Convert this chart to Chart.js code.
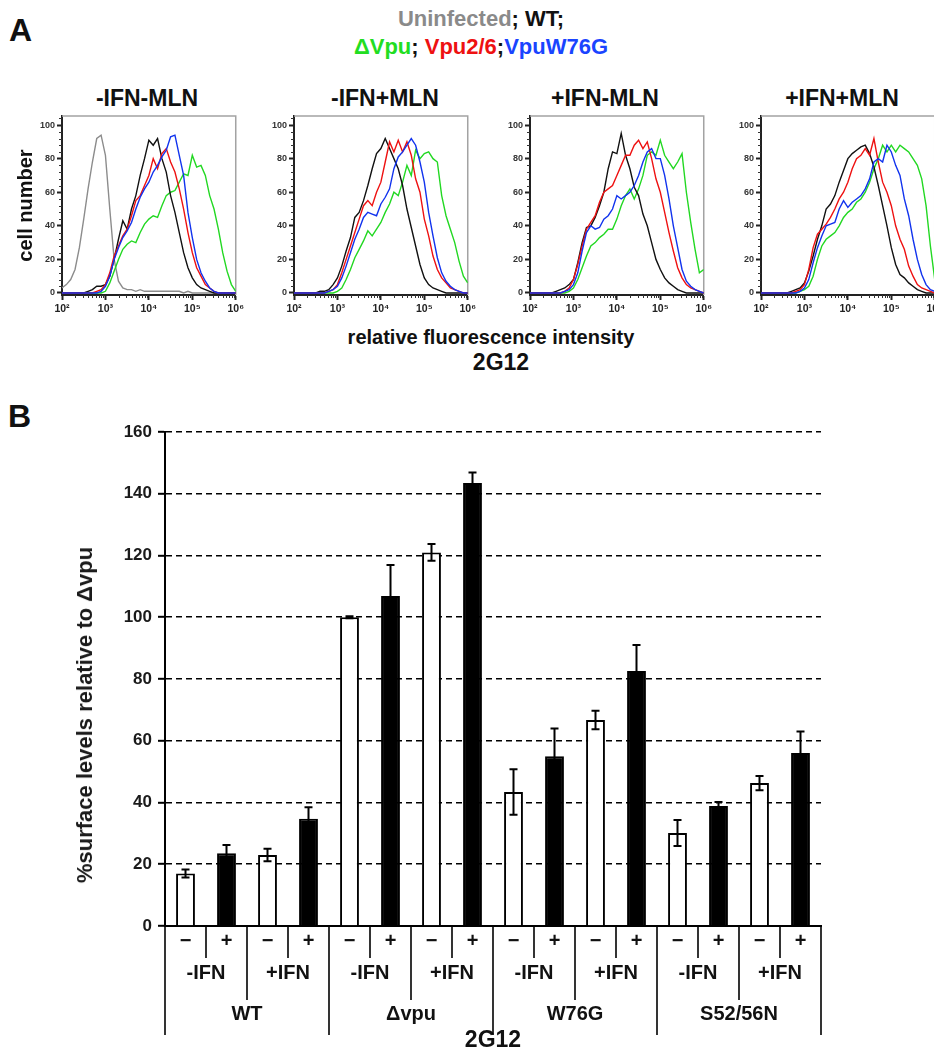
<!DOCTYPE html>
<html>
<head>
<meta charset="utf-8">
<script src="https://cdn.jsdelivr.net/npm/chart.js@4.4.0/dist/chart.umd.min.js"></script>
<style>
  html, body { margin: 0; padding: 0; background: #fff; }
  body { width: 934px; height: 1054px; position: relative; overflow: hidden; font-family: "Liberation Sans", Arial, sans-serif; }
  canvas { position: absolute; }
  .txt { position: absolute; font-weight: bold; color: #111; white-space: nowrap; }
  .letter { font-size: 32px; line-height: 36px; }
  .header { left: 0; width: 962px; text-align: center; font-size: 22px; line-height: 28px; }
  .ptitle { top: 85px; width: 200px; text-align: center; font-size: 23px; line-height: 26px; }
  .ytitle { font-size: 22px; line-height: 26px; transform: translate(-50%, -50%) rotate(-90deg); color: #1a1a1a; }
</style>
</head>
<body>

<div class="txt letter" style="left:9px; top:12px;">A</div>
<div class="txt header" style="top:5px;"><span style="color:#8a8a8a">Uninfected</span>; WT;</div>
<div class="txt header" style="top:33px;"><span style="color:#22dd22">&Delta;Vpu</span>; <span style="color:#ee1111">Vpu2/6</span>;<span style="color:#1a44ff">VpuW76G</span></div>

<div class="txt ptitle" style="left:47px;">-IFN-MLN</div>
<div class="txt ptitle" style="left:285px;">-IFN+MLN</div>
<div class="txt ptitle" style="left:505px;">+IFN-MLN</div>
<div class="txt ptitle" style="left:742px;">+IFN+MLN</div>

<canvas id="h1" width="237" height="215" style="left:10px; top:106px;"></canvas>
<canvas id="h2" width="219" height="215" style="left:260px; top:106px;"></canvas>
<canvas id="h3" width="219" height="215" style="left:496px; top:106px;"></canvas>
<canvas id="h4" width="219" height="215" style="left:727px; top:106px;"></canvas>

<div class="txt" style="left:0; width:982px; text-align:center; top:325px; font-size:20px; line-height:24px;">relative fluorescence intensity</div>
<div class="txt" style="left:0; width:1002px; text-align:center; top:348px; font-size:23px; line-height:28px;">2G12</div>

<div class="txt letter" style="left:8px; top:398px;">B</div>
<canvas id="bars" width="934" height="654" style="left:0; top:400px;"></canvas>
<div class="txt ytitle" style="left:85px; top:715px;">%surface levels relative to &Delta;vpu</div>

<script>
Chart.defaults.font.family = '"Liberation Sans", Arial, sans-serif';
Chart.defaults.animation = false;

// ---------- panel A: flow histograms ----------
// bins are log10 of fluorescence intensity
var histBins = [2.0, 2.1, 2.2, 2.3, 2.4, 2.5, 2.6, 2.7, 2.8, 2.9, 3.0, 3.1, 3.2, 3.3, 3.4, 3.5, 3.6, 3.7, 3.8, 3.9, 4.0,
                4.1, 4.2, 4.3, 4.4, 4.5, 4.6, 4.7, 4.8, 4.9, 5.0, 5.1, 5.2, 5.3, 5.4, 5.5, 5.6, 5.7, 5.8, 5.9, 6.0];
var decadeExp = [2, 3, 4, 5, 6];
var decadeLabels = ['10\u00B2', '10\u00B3', '10\u2074', '10\u2075', '10\u2076'];
var histYTicks = [0, 20, 40, 60, 80, 100];

var seriesNames = ['VpuW76G', 'Vpu2/6', 'WT', '\u0394Vpu', 'Uninfected'];
var seriesColors = ['#1133ee', '#ee1111', '#111111', '#22d822', '#8c8c8c'];

// -IFN-MLN
var p1Blue  = [0,0,0,0,0,0,0,0,0,1,4,10,20,27,33,37,42,50,57,62,66,72,76,81,85,93,94,82,70,48,33,20,12,7,3,1,0,0,0,0,0];
var p1Red   = [0,0,0,0,0,0,0,0,1,2,5,12,22,28,34,38,46,55,58,64,70,80,74,83,86,78,72,62,50,36,24,15,10,5,3,1,0,0,0,0,0];
var p1Black = [0,0,0,0,0,0,1,2,4,4,5,10,20,32,43,38,50,58,70,80,91,88,92,80,72,58,48,36,24,15,9,5,3,2,1,0,0,0,0,0,0];
var p1Green = [0,0,0,0,0,0,0,0,0,0,1,6,13,20,26,29,31,30,36,41,44,46,45,52,58,60,61,66,71,70,82,75,76,70,58,50,38,24,13,5,1];
var p1Gray  = [3,5,8,14,27,44,62,78,92,94,82,50,20,7,3,2,2,1,2,1,1,1,1,1,1,1,1,1,0,1,0,0,0,0,0,0,0,0,0,0,0];

// -IFN+MLN
var p2Blue  = [0,0,0,0,0,0,0,0,1,2,4,9,16,24,32,38,45,48,47,46,53,57,62,74,81,84,88,92,88,78,66,48,34,21,12,7,4,2,1,0,0];
var p2Red   = [0,0,0,0,0,0,0,0,1,2,5,12,20,28,36,44,52,55,52,60,66,78,90,84,91,84,90,82,68,60,44,34,22,14,9,6,3,2,1,0,0];
var p2Black = [0,0,0,0,0,0,1,1,2,5,9,16,25,33,45,48,55,64,74,83,86,92,86,80,74,64,50,39,28,17,9,5,3,2,1,0,0,0,0,0,0];
var p2Green = [0,0,0,0,0,0,0,0,0,0,1,3,8,14,21,26,31,37,34,38,42,48,53,60,58,66,76,70,85,80,83,84,80,78,58,46,38,30,19,10,6];

// +IFN-MLN
var p3Blue  = [0,0,0,0,0,0,0,0,1,2,5,12,25,36,40,38,39,44,46,50,58,56,58,60,64,70,78,84,86,80,80,70,56,40,27,14,7,4,2,1,0];
var p3Red   = [0,0,0,0,0,0,0,0,1,3,8,17,28,38,42,46,54,60,62,64,70,76,82,82,88,91,86,90,80,68,60,48,36,25,15,9,5,3,2,1,0];
var p3Black = [0,0,0,0,0,0,1,2,3,5,8,18,30,39,40,45,52,60,74,84,83,95,82,74,63,58,47,40,30,20,14,9,6,4,2,1,0,0,0,0,0];
var p3Green = [0,0,0,0,0,0,0,0,0,1,3,8,15,22,28,30,33,35,38,38,44,52,58,62,56,62,70,82,84,82,91,82,78,74,78,83,60,42,26,12,14];

// +IFN+MLN
var p4Blue  = [0,0,0,0,0,0,0,0,0,1,3,8,18,27,34,40,41,42,50,55,51,54,56,58,62,68,78,80,78,88,84,76,70,56,46,32,20,11,5,2,1];
var p4Red   = [0,0,0,0,0,0,0,0,1,2,5,14,27,35,38,41,45,50,56,60,66,74,80,82,86,82,92,78,66,60,52,40,32,26,16,10,5,3,2,1,0];
var p4Black = [0,0,0,0,0,0,0,1,2,3,6,13,22,32,40,50,53,58,66,73,80,83,85,87,88,83,75,64,52,40,27,17,11,9,6,4,2,1,0,0,0];
var p4Green = [0,0,0,0,0,0,0,0,0,1,2,4,10,20,28,32,34,36,40,45,48,50,54,56,60,66,74,80,88,84,88,84,88,86,84,80,76,68,52,28,8];

var histPanels = [
    { id: 'h1', yWidth: 52, yTitle: 'cell number', series: [p1Blue, p1Red, p1Black, p1Green, p1Gray] },
    { id: 'h2', yWidth: 34, yTitle: '', series: [p2Blue, p2Red, p2Black, p2Green] },
    { id: 'h3', yWidth: 34, yTitle: '', series: [p3Blue, p3Red, p3Black, p3Green] },
    { id: 'h4', yWidth: 34, yTitle: '', series: [p4Blue, p4Red, p4Black, p4Green] }
];

// gray frame on top/right + minor tick marks
const histFrame = {
    id: 'histFrame',
    beforeDatasetsDraw(chart) {
        const { ctx, chartArea: a } = chart;
        ctx.save();
        ctx.strokeStyle = '#a3a3a3';
        ctx.lineWidth = 1.5;
        ctx.beginPath();
        ctx.moveTo(a.left, a.top);
        ctx.lineTo(a.right, a.top);
        ctx.lineTo(a.right, a.bottom);
        ctx.stroke();
        ctx.restore();
    },
    afterDraw(chart) {
        const { ctx, chartArea: a, scales } = chart;
        ctx.save();
        ctx.strokeStyle = '#333';
        ctx.lineWidth = 1;
        ctx.beginPath();
        for (let n = 2; n < 6; n++) {
            for (let k = 2; k < 10; k++) {
                const px = Math.round(scales.x.getPixelForValue(n + Math.log10(k))) + 0.5;
                ctx.moveTo(px, a.bottom);
                ctx.lineTo(px, a.bottom + 3);
            }
        }
        for (let v = 4; v <= 104; v += 4) {
            if (v % 20 === 0) continue;
            const py = Math.round(scales.y.getPixelForValue(v)) + 0.5;
            ctx.moveTo(a.left - 3, py);
            ctx.lineTo(a.left, py);
        }
        ctx.stroke();
        ctx.restore();
    }
};

histPanels.forEach(function (p) {
    new Chart(document.getElementById(p.id), {
        type: 'line',
        data: {
            datasets: p.series.map(function (s, i) {
                return {
                    label: seriesNames[i],
                    data: histBins.map(function (b, j) { return { x: b, y: s[j] }; }),
                    borderColor: seriesColors[i],
                    borderWidth: 1.4,
                    pointRadius: 0,
                    tension: 0,
                    fill: false
                };
            })
        },
        options: {
            responsive: false,
            devicePixelRatio: 1,
            layout: { padding: { top: 10, right: 6, bottom: 0, left: 0 } },
            plugins: {
                legend: { display: false },
                tooltip: { enabled: false }
            },
            scales: {
                x: {
                    type: 'linear',
                    min: 2, max: 6,
                    afterBuildTicks: function (s) { s.ticks = decadeExp.map(function (v) { return { value: v }; }); },
                    afterFit: function (s) { s.height = 26; },
                    ticks: {
                        autoSkip: false, maxRotation: 0, padding: 3, color: '#222',
                        font: { size: 10.5, weight: 'bold' },
                        callback: function (v) { return decadeLabels[decadeExp.indexOf(v)]; }
                    },
                    grid: { drawOnChartArea: false, tickLength: 5, tickColor: '#222', tickWidth: 2 },
                    border: { color: '#222', width: 2 }
                },
                y: {
                    min: -1.2, max: 105.4,
                    afterBuildTicks: function (s) { s.ticks = histYTicks.map(function (v) { return { value: v }; }); },
                    afterFit: function (s) { s.width = p.yWidth; },
                    ticks: { padding: 2, color: '#333', font: { size: 9, weight: 'bold' } },
                    grid: { drawOnChartArea: false, tickLength: 5, tickColor: '#222', tickWidth: 2 },
                    border: { color: '#222', width: 2 },
                    title: {
                        display: p.yTitle !== '',
                        text: p.yTitle,
                        color: '#111',
                        font: { size: 20, weight: 'bold' },
                        padding: { top: 4, bottom: 0 }
                    }
                }
            }
        },
        plugins: [histFrame]
    });
});

// ---------- panel B: surface levels bar chart ----------
var mlnLabels = ['\u2212', '+', '\u2212', '+', '\u2212', '+', '\u2212', '+', '\u2212', '+', '\u2212', '+', '\u2212', '+', '\u2212', '+'];
var ifnLabels = ['-IFN', '+IFN', '-IFN', '+IFN', '-IFN', '+IFN', '-IFN', '+IFN'];
var virusLabels = ['WT', '\u0394vpu', 'W76G', 'S52/56N'];
var surfaceMean = [17, 23.6, 23, 34.7, 100, 106.9, 121, 143.5, 43.4, 55, 66.7, 82.6, 30.1, 38.9, 46.3, 56];
var surfaceErr = [1.3, 2.6, 2, 3.8, 0.3, 10, 2.7, 3.4, 7.4, 9, 3, 8.4, 4.2, 1.3, 2.3, 7];
var barYTicks = [0, 20, 40, 60, 80, 100, 120, 140, 160];

const errorBars = {
    id: 'errorBars',
    afterDatasetsDraw(chart) {
        const { ctx, scales: { y } } = chart;
        const meta = chart.getDatasetMeta(0);
        ctx.save();
        ctx.strokeStyle = '#000';
        ctx.lineWidth = 2;
        meta.data.forEach(function (bar, i) {
            const top = y.getPixelForValue(surfaceMean[i] + surfaceErr[i]);
            const bot = y.getPixelForValue(surfaceMean[i] - surfaceErr[i]);
            ctx.beginPath();
            ctx.moveTo(bar.x, top); ctx.lineTo(bar.x, bot);
            ctx.moveTo(bar.x - 4, top); ctx.lineTo(bar.x + 4, top);
            ctx.moveTo(bar.x - 4, bot); ctx.lineTo(bar.x + 4, bot);
            ctx.stroke();
        });
        ctx.restore();
    }
};

// vertical separators of the nested category axis
const separators = {
    id: 'separators',
    afterDraw(chart) {
        const { ctx, scales: { x, x2, x3 } } = chart;
        const n = mlnLabels.length;
        const slot = (x.right - x.left) / n;
        ctx.save();
        ctx.strokeStyle = '#000';
        ctx.lineWidth = 1.6;
        for (let i = 0; i <= n; i++) {
            const px = Math.round(x.left + i * slot);
            let end;
            if (i % 4 === 0) end = x3.top + 35;
            else if (i % 2 === 0) end = x2.bottom;
            else end = x.bottom - 2;
            ctx.beginPath();
            ctx.moveTo(px, x.top);
            ctx.lineTo(px, end);
            ctx.stroke();
        }
        ctx.restore();
    }
};

new Chart(document.getElementById('bars'), {
    type: 'bar',
    data: {
        labels: mlnLabels,
        datasets: [{
            data: surfaceMean,
            backgroundColor: mlnLabels.map(function (m) { return m === '+' ? '#000' : '#fff'; }),
            borderColor: '#000',
            borderWidth: 2,
            borderSkipped: 'start',
            categoryPercentage: 1,
            barPercentage: 0.46
        }]
    },
    options: {
        responsive: false,
        devicePixelRatio: 1,
        layout: { padding: { top: 32, right: 113, bottom: 0, left: 0 } },
        plugins: { legend: { display: false }, tooltip: { enabled: false } },
        scales: {
            x: {
                weight: 0,
                afterFit: function (s) { s.height = 34; },
                ticks: { autoSkip: false, maxRotation: 0, padding: 3, color: '#111', font: { size: 20, weight: 'bold' } },
                grid: { display: false, drawTicks: false },
                border: { color: '#000', width: 2 }
            },
            x2: {
                type: 'category',
                position: 'bottom',
                weight: 1,
                labels: ifnLabels,
                offset: true,
                afterFit: function (s) { s.height = 40; },
                ticks: { autoSkip: false, maxRotation: 0, padding: 1, color: '#111', font: { size: 20, weight: 'bold' } },
                grid: { display: false, drawTicks: false },
                border: { display: false }
            },
            x3: {
                type: 'category',
                position: 'bottom',
                weight: 2,
                labels: virusLabels,
                offset: true,
                afterFit: function (s) { s.height = 54; },
                ticks: { autoSkip: false, maxRotation: 0, padding: 2, color: '#111', font: { size: 20, weight: 'bold' } },
                grid: { display: false, drawTicks: false },
                border: { display: false },
                title: { display: true, text: '2G12', color: '#111', font: { size: 23, weight: 'bold' }, padding: { top: 0, bottom: 0 } }
            },
            y: {
                min: 0, max: 160,
                afterBuildTicks: function (s) { s.ticks = barYTicks.map(function (v) { return { value: v }; }); },
                afterFit: function (s) { s.width = 165; },
                ticks: { padding: 6, color: '#1a1a1a', font: { size: 17, weight: 'bold' } },
                grid: {
                    color: function (c) { return c.tick && c.tick.value === 0 ? 'rgba(0,0,0,0)' : '#000'; },
                    lineWidth: 1.6,
                    tickLength: 7,
                    tickColor: '#000',
                    tickWidth: 2
                },
                border: { color: '#000', width: 2, dash: [6, 4] }
            }
        }
    },
    plugins: [errorBars, separators]
});
</script>
</body>
</html>
